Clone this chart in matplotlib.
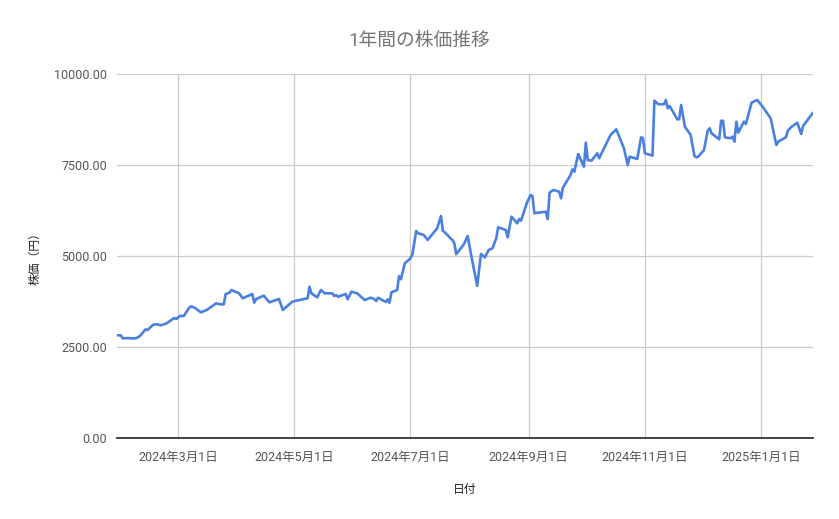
import datetime as dt

import matplotlib
matplotlib.use('Agg')
import matplotlib.pyplot as plt
from matplotlib.ticker import FuncFormatter

plt.rcParams['font.family'] = ['Roboto', 'Noto Sans CJK JP', 'DejaVu Sans']

# Data
dates = [
    '2024-01-29', '2024-01-31', '2024-02-01', '2024-02-04', '2024-02-05',
    '2024-02-08', '2024-02-10', '2024-02-13', '2024-02-14', '2024-02-17',
    '2024-02-19', '2024-02-21', '2024-02-24', '2024-02-26', '2024-02-28',
    '2024-02-29', '2024-03-02', '2024-03-04', '2024-03-07', '2024-03-08',
    '2024-03-10', '2024-03-13', '2024-03-16', '2024-03-21', '2024-03-23',
    '2024-03-25', '2024-03-26', '2024-03-28', '2024-03-29', '2024-04-01',
    '2024-04-02', '2024-04-04', '2024-04-09', '2024-04-10', '2024-04-11',
    '2024-04-15', '2024-04-18', '2024-04-23', '2024-04-25', '2024-04-26',
    '2024-04-30', '2024-05-02', '2024-05-08', '2024-05-09', '2024-05-10',
    '2024-05-13', '2024-05-15', '2024-05-17', '2024-05-21', '2024-05-22',
    '2024-05-23', '2024-05-24', '2024-05-28', '2024-05-29', '2024-05-31',
    '2024-06-03', '2024-06-05', '2024-06-07', '2024-06-10', '2024-06-12',
    '2024-06-13', '2024-06-14', '2024-06-18', '2024-06-19', '2024-06-20',
    '2024-06-21', '2024-06-24', '2024-06-25', '2024-06-26', '2024-06-28',
    '2024-07-01', '2024-07-02', '2024-07-04', '2024-07-05', '2024-07-08',
    '2024-07-10', '2024-07-15', '2024-07-17', '2024-07-18', '2024-07-19',
    '2024-07-22', '2024-07-23', '2024-07-24', '2024-07-25', '2024-07-29',
    '2024-07-31', '2024-08-02', '2024-08-05', '2024-08-07', '2024-08-09',
    '2024-08-11', '2024-08-13', '2024-08-15', '2024-08-16', '2024-08-20',
    '2024-08-21', '2024-08-23', '2024-08-26', '2024-08-27', '2024-08-28',
    '2024-08-31', '2024-09-02', '2024-09-03', '2024-09-04', '2024-09-10',
    '2024-09-11', '2024-09-12', '2024-09-14', '2024-09-17', '2024-09-18',
    '2024-09-19', '2024-09-23', '2024-09-24', '2024-09-25', '2024-09-27',
    '2024-09-30', '2024-10-01', '2024-10-02', '2024-10-04', '2024-10-07',
    '2024-10-08', '2024-10-11', '2024-10-14', '2024-10-17', '2024-10-21',
    '2024-10-23', '2024-10-24', '2024-10-28', '2024-10-30', '2024-10-31',
    '2024-11-01', '2024-11-05', '2024-11-06', '2024-11-08', '2024-11-11',
    '2024-11-12', '2024-11-13', '2024-11-14', '2024-11-18', '2024-11-19',
    '2024-11-20', '2024-11-22', '2024-11-25', '2024-11-27', '2024-11-28',
    '2024-11-29', '2024-12-02', '2024-12-04', '2024-12-05', '2024-12-06',
    '2024-12-10', '2024-12-11', '2024-12-12', '2024-12-13', '2024-12-16',
    '2024-12-17', '2024-12-18', '2024-12-19', '2024-12-20', '2024-12-23',
    '2024-12-24', '2024-12-27', '2024-12-30', '2025-01-02', '2025-01-06',
    '2025-01-09', '2025-01-10', '2025-01-14', '2025-01-15', '2025-01-17',
    '2025-01-20', '2025-01-22', '2025-01-23', '2025-01-28',
]
prices = [
    2821, 2820, 2739, 2747, 2739,
    2739, 2802, 2986, 2967, 3113,
    3124, 3095, 3150, 3223, 3297,
    3269, 3352, 3352, 3590, 3617,
    3571, 3452, 3516, 3700, 3672,
    3672, 3956, 3992, 4066, 4000,
    3975, 3838, 3956, 3717, 3819,
    3910, 3727, 3819, 3516, 3563,
    3745, 3772, 3838, 4157, 3975,
    3865, 4066, 3975, 3975, 3901,
    3929, 3882, 3956, 3810, 4020,
    3975, 3882, 3791, 3855, 3819,
    3764, 3855, 3736, 3810, 3717,
    4002, 4066, 4451, 4359, 4799,
    4937, 5047, 5687, 5623, 5577,
    5440, 5761, 6099, 5687, 5651,
    5486, 5440, 5348, 5050, 5321,
    5549, 4981, 4180, 5055, 4960,
    5165, 5211, 5486, 5788, 5714,
    5514, 6080, 5898, 6016, 5970,
    6448, 6676, 6648, 6173, 6218,
    6016, 6740, 6813, 6767, 6584,
    6877, 7225, 7381, 7317, 7802,
    7454, 8113, 7637, 7619, 7821,
    7684, 8003, 8324, 8480, 7959,
    7500, 7728, 7665, 8260, 8233,
    7821, 7756, 9267, 9168, 9168,
    9286, 9058, 9121, 8755, 8755,
    9148, 8552, 8324, 7747, 7711,
    7728, 7912, 8443, 8508, 8370,
    8205, 8714, 8714, 8260, 8233,
    8278, 8141, 8690, 8390, 8690,
    8626, 9212, 9286, 9085, 8782,
    8049, 8141, 8260, 8443, 8552,
    8659, 8352, 8571, 8920,
]
tick_dates = ['2024-03-01', '2024-05-01', '2024-07-01', '2024-09-01',
              '2024-11-01', '2025-01-01']
y_ticks = [0, 2500, 5000, 7500, 10000]

x = [dt.datetime.strptime(d, '%Y-%m-%d') for d in dates]
xt = [dt.datetime.strptime(d, '%Y-%m-%d') for d in tick_dates]

fig = plt.figure(figsize=(8.39, 5.19), dpi=100)
ax = fig.add_axes([0.1395, 0.156, 0.829, 0.7015])

ax.plot(x, prices, color='#4a80e0', lw=1.9, solid_joinstyle='round')

ax.set_xlim(x[0], x[-1])
ax.set_ylim(0, 10000)
ax.set_yticks(y_ticks)
ax.yaxis.set_major_formatter(FuncFormatter(lambda v, p: '%.2f' % v))
ax.set_xticks(xt)
ax.set_xticklabels(['%d年%d月%d日' % (t.year, t.month, t.day) for t in xt])

ax.grid(True, color='#cccccc', lw=0.9)
ax.set_axisbelow(True)
for s in ['top', 'right', 'left']:
    ax.spines[s].set_visible(False)
ax.spines['bottom'].set_color('#333333')
ax.spines['bottom'].set_linewidth(1.3)
ax.spines['bottom'].set_zorder(5)
ax.tick_params(length=0, labelsize=9, colors='#555555', pad=7)
ax.tick_params(axis='x', pad=9)

ax.set_xlabel('日付', fontsize=8.5, color='#222222', labelpad=14)
ax.set_ylabel('株価（円）', fontsize=8.5, color='#222222', labelpad=9)
fig.suptitle('1年間の株価推移', fontsize=13.5, color='#757575', y=0.938)

fig.savefig('out.png', dpi=100)
